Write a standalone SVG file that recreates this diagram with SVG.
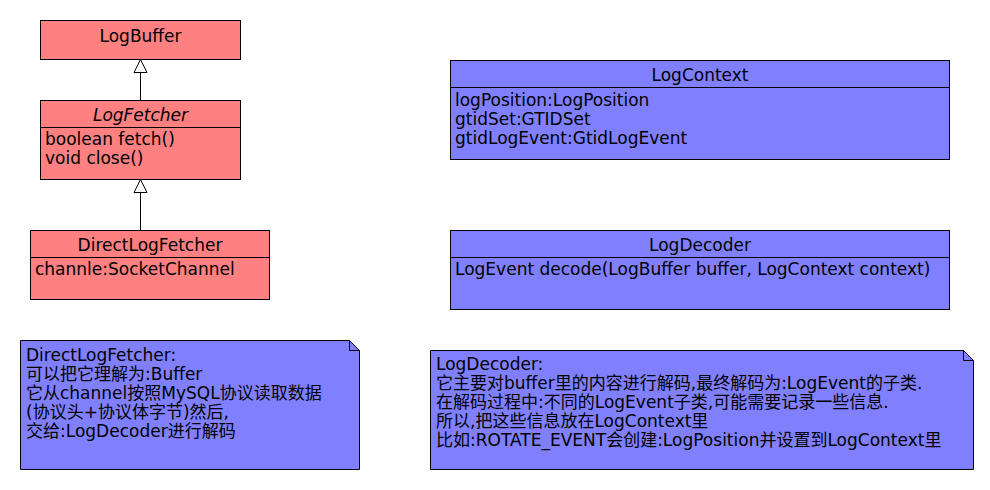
<svg xmlns="http://www.w3.org/2000/svg" width="990" height="490" viewBox="0 0 990 490">
<style>
.red{fill:#FF8080;stroke:#000;stroke-width:1}
.blue{fill:#8080FF;stroke:#000;stroke-width:1}
.ln{stroke:#000;stroke-width:1;fill:none}
text{font-family:"DejaVu Sans","Noto Sans CJK SC",sans-serif;font-size:17px;fill:#000}
.c{text-anchor:middle}
.i{font-style:italic}
</style>
<rect width="990" height="490" fill="#fff"/>
<g id="LogBuffer">
<rect class="red" x="40.5" y="20.5" width="200" height="39"/>
<text class="c" x="140.5" y="42">LogBuffer</text>
</g>
<g id="LogFetcher">
<rect class="red" x="40.5" y="100.5" width="200" height="79"/>
<line class="ln" x1="40.5" y1="127.5" x2="240.5" y2="127.5"/>
<text class="c i" x="140.5" y="121">LogFetcher</text>
<text x="45" y="145">boolean fetch()</text>
<text x="45" y="164">void close()</text>
</g>
<g id="DirectLogFetcher">
<rect class="red" x="30.5" y="230.5" width="239" height="69"/>
<line class="ln" x1="30.5" y1="257.5" x2="269.5" y2="257.5"/>
<text class="c" x="150" y="251">DirectLogFetcher</text>
<text x="35" y="275">channle:SocketChannel</text>
</g>
<g id="LogContext">
<rect class="blue" x="450.5" y="60.5" width="499" height="99"/>
<line class="ln" x1="450.5" y1="87.5" x2="949.5" y2="87.5"/>
<text class="c" x="700" y="81">LogContext</text>
<text x="455" y="106">logPosition:LogPosition</text>
<text x="455" y="125">gtidSet:GTIDSet</text>
<text x="455" y="144">gtidLogEvent:GtidLogEvent</text>
</g>
<g id="LogDecoder">
<rect class="blue" x="450.5" y="230.5" width="499" height="79"/>
<line class="ln" x1="450.5" y1="257.5" x2="949.5" y2="257.5"/>
<text class="c" x="700" y="251">LogDecoder</text>
<text x="455" y="275">LogEvent decode(LogBuffer buffer, LogContext context)</text>
</g>
<g id="note1">
<path class="blue" d="M20.5,340.5 H349.5 L359.5,350.5 V469.5 H20.5 Z"/>
<path class="ln" d="M349.5,340.5 V350.5 H359.5"/>
<text x="26" y="361">DirectLogFetcher:</text>
<text x="26" y="380">可以把它理解为:Buffer</text>
<text x="26" y="399">它从channel按照MySQL协议读取数据</text>
<text x="26" y="418">(协议头+协议体字节)然后,</text>
<text x="26" y="437">交给:LogDecoder进行解码</text>
</g>
<g id="note2">
<path class="blue" d="M430.5,350.5 H963.5 L973.5,360.5 V469.5 H430.5 Z"/>
<path class="ln" d="M963.5,350.5 V360.5 H973.5"/>
<text x="436" y="370">LogDecoder:</text>
<text x="436" y="389">它主要对buffer里的内容进行解码,最终解码为:LogEvent的子类.</text>
<text x="436" y="408">在解码过程中:不同的LogEvent子类,可能需要记录一些信息.</text>
<text x="436" y="427">所以,把这些信息放在LogContext里</text>
<text x="436" y="446">比如:ROTATE_EVENT会创建:LogPosition并设置到LogContext里</text>
</g>
<g id="connectors">
<line class="ln" x1="140.5" y1="100" x2="140.5" y2="72"/>
<path d="M140.5,59.5 L134,72.5 H147 Z" fill="#fff" stroke="#000"/>
<line class="ln" x1="140.5" y1="230" x2="140.5" y2="192"/>
<path d="M140.5,179.5 L134,192.5 H147 Z" fill="#fff" stroke="#000"/>
</g>
</svg>
